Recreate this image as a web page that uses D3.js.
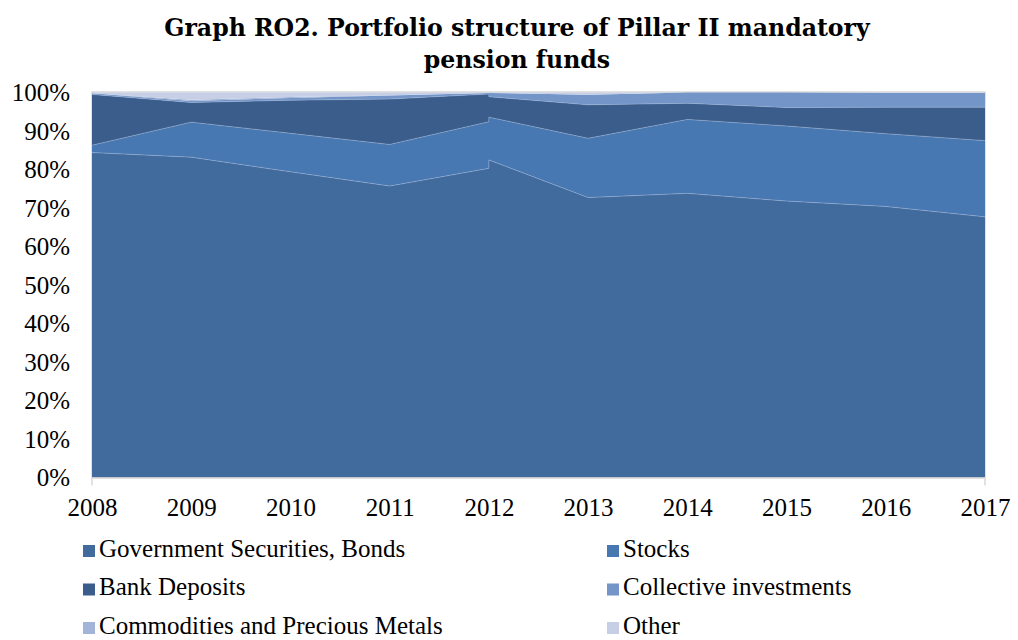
<!DOCTYPE html>
<html>
<head>
<meta charset="utf-8">
<script src="https://cdn.jsdelivr.net/npm/d3@7"></script>
<style>
  body { margin: 0; background: #ffffff; }
</style>
</head>
<body>
<div id="chart_container"></div>
<script>
// values, in percent; 2012 appears twice (step in the source chart)
var years = [2008, 2009, 2010, 2011, 2012, 2012, 2013, 2014, 2015, 2016, 2017];
var govSecurities = [84.4, 83.2, 79.4, 75.7, 80.3, 82.5, 72.7, 73.8, 71.8, 70.4, 67.7];
var stocks = [1.9, 9.1, 10.0, 10.8, 12.1, 11.1, 15.4, 19.2, 19.5, 18.9, 19.8];
var bankDeposits = [13.2, 5.1, 8.6, 11.8, 7.2, 5.3, 8.7, 4.2, 4.8, 6.9, 8.7];
var collective = [0.3, 0.4, 0.6, 0.9, 0.3, 1.0, 2.6, 2.8, 3.9, 3.7, 3.7];
var commodities = [0, 0.3, 0.2, 0.1, 0, 0, 0, 0, 0, 0, 0];
var other = [0.2, 1.9, 1.2, 0.7, 0.1, 0.1, 0.6, 0, 0, 0.1, 0.1];

var seriesNames = ['Government Securities, Bonds', 'Stocks', 'Bank Deposits',
    'Collective investments', 'Commodities and Precious Metals', 'Other'];
var seriesValues = [govSecurities, stocks, bankDeposits, collective, commodities, other];
var seriesColors = ['#416a9d', '#4878b2', '#3a5d8b', '#7395c8', '#a2b4d8', '#c6cfe6'];

var xTicks = [2008, 2009, 2010, 2011, 2012, 2013, 2014, 2015, 2016, 2017];
var yTicks = [0, 10, 20, 30, 40, 50, 60, 70, 80, 90, 100];

var titleLines = ['Graph RO2. Portfolio structure of Pillar II mandatory', 'pension funds'];

const width = 1018;
const height = 640;
const plot = { left: 92, right: 985, top: 92.5, bottom: 477.5 };

var svg = d3.select('#chart_container')
    .append('svg')
    .attr('width', width)
    .attr('height', height);

// build rows for the stack
var rows = years.map(function(y, i) {
    var row = { year: y };
    seriesNames.forEach(function(name, k) { row[name] = seriesValues[k][i]; });
    return row;
});

var stacked = d3.stack().keys(seriesNames)(rows);

var x = d3.scaleLinear()
    .domain([d3.min(years), d3.max(years)])
    .range([plot.left, plot.right]);

var y = d3.scaleLinear()
    .domain([0, 100])
    .range([plot.bottom, plot.top]);

var area = d3.area()
    .x(d => x(d.data.year))
    .y0(d => y(d[0]))
    .y1(d => y(d[1]));

var topLine = d3.line()
    .x(d => x(d.data.year))
    .y(d => y(d[1]));

// plot frame
svg.append('rect')
    .attr('x', plot.left)
    .attr('y', plot.top - 0.5)
    .attr('width', plot.right - plot.left)
    .attr('height', plot.bottom - plot.top + 0.5)
    .attr('fill', 'none')
    .attr('stroke', '#d9d9d9')
    .attr('stroke-width', 1.5);

svg.selectAll('.layer')
    .data(stacked)
    .enter()
    .append('path')
    .attr('class', 'layer')
    .attr('d', area)
    .attr('fill', (d, i) => seriesColors[i]);

// faint light seams between the lower layers
svg.selectAll('.seam')
    .data(stacked.slice(0, 3))
    .enter()
    .append('path')
    .attr('class', 'seam')
    .attr('d', topLine)
    .attr('fill', 'none')
    .attr('stroke', '#9fb6d8')
    .attr('stroke-opacity', 0.7)
    .attr('stroke-width', 0.7);

// x axis base line with end ticks
svg.append('line')
    .attr('x1', plot.left)
    .attr('x2', plot.right)
    .attr('y1', plot.bottom + 0.5)
    .attr('y2', plot.bottom + 0.5)
    .attr('stroke', '#d9d9d9')
    .attr('stroke-width', 1.5);

svg.selectAll('.xtick-mark')
    .data([xTicks[0], xTicks[xTicks.length - 1]])
    .enter()
    .append('line')
    .attr('class', 'xtick-mark')
    .attr('x1', d => x(d))
    .attr('x2', d => x(d))
    .attr('y1', plot.bottom)
    .attr('y2', plot.bottom + 8)
    .attr('stroke', '#d9d9d9')
    .attr('stroke-width', 1.5);

var xAxis = svg.append('g')
    .attr('transform', 'translate(0,' + plot.bottom + ')')
    .call(d3.axisBottom(x).tickValues(xTicks).tickFormat(d3.format('d')).tickSize(0).tickPadding(21));
xAxis.select('.domain').remove();
xAxis.selectAll('text')
    .attr('font-family', 'Liberation Serif')
    .attr('font-size', '25px')
    .attr('fill', '#000000');

var yAxis = svg.append('g')
    .attr('transform', 'translate(' + plot.left + ',0)')
    .call(d3.axisLeft(y).tickValues(yTicks).tickFormat(d => d + '%').tickSize(0).tickPadding(22));
yAxis.select('.domain').remove();
yAxis.selectAll('text')
    .attr('font-family', 'Liberation Serif')
    .attr('font-size', '25px')
    .attr('fill', '#000000');

// title
svg.selectAll('.title')
    .data(titleLines)
    .enter()
    .append('text')
    .attr('class', 'title')
    .attr('x', 517)
    .attr('y', (d, i) => 36 + i * 32)
    .attr('text-anchor', 'middle')
    .attr('font-family', 'DejaVu Serif')
    .attr('font-weight', 'bold')
    .attr('font-size', '23.6px')
    .attr('fill', '#000000')
    .text(d => d);

// legend, two columns
var legend = svg.selectAll('.legend')
    .data(seriesNames)
    .enter()
    .append('g')
    .attr('class', 'legend')
    .attr('transform', (d, i) => 'translate(' + (i % 2 === 0 ? 83 : 607) + ',' + (551 + Math.floor(i / 2) * 38.5) + ')');

legend.append('rect')
    .attr('x', 0)
    .attr('y', -6)
    .attr('width', 12)
    .attr('height', 12)
    .attr('fill', (d, i) => seriesColors[i]);

legend.append('text')
    .attr('x', 16)
    .attr('y', 0)
    .attr('dominant-baseline', 'middle')
    .attr('font-family', 'Liberation Serif')
    .attr('font-size', '25px')
    .attr('fill', '#000000')
    .text(d => d);
</script>
</body>
</html>
